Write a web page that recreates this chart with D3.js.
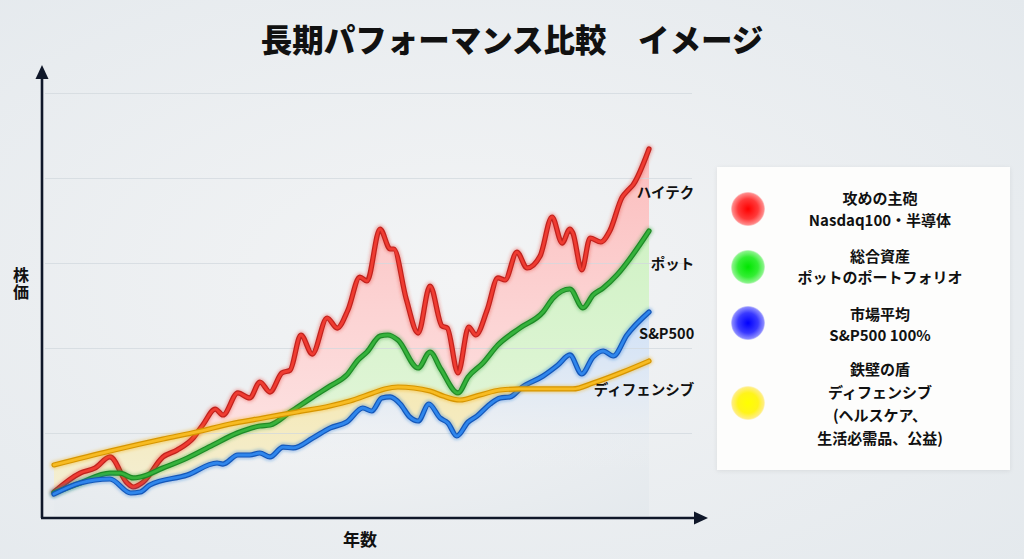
<!DOCTYPE html>
<html><head><meta charset="utf-8">
<script src="https://cdn.jsdelivr.net/npm/d3@7"></script>
<style>
html,body{margin:0;padding:0;background:#eceff2;overflow:hidden;}
svg{display:block;font-family:"Noto Sans CJK JP","Noto Sans",sans-serif;}
</style></head><body>
<svg id="c" width="1024" height="559"></svg>
<script>
// ---- data (time index 0-100, value index where grid lines sit at 100..500) ----
const hitechT = [0,4.4,6.9,9.4,12.3,13.3,15.0,18.3,20.7,23.4,25.0,27.1,28.4,30.9,32.9,34.6,36.3,38.3,39.7,41.5,43.4,45.9,47.6,49.4,51.4,52.6,54.8,56.5,57.1,59.2,61.2,63.2,65.2,66.1,67.9,69.7,70.9,72.8,74.6,75.8,77.8,79.5,81.7,83.7,85.4,86.7,87.2,88.7,90.1,91.9,93.4,95.5,96.5,97.3,100];
const hitechV = [30.6,52.9,58.8,71.8,41.2,36.5,42.4,71.8,80,94.1,109.4,128.2,121.2,147.1,141.2,160,148.2,170.6,174.1,215.3,192.9,235.3,223.5,244.7,283.5,278.8,340,316.5,316.5,257.6,217.6,272.9,225.9,223.5,170.6,224.7,215.3,244.7,282.4,280,312.9,294.1,308.2,354.1,323.5,340,335.3,291.8,329.4,324.7,337.6,377.6,385.9,391.8,434.1];

const potT = [0,4.4,9.4,11.1,13.3,14.5,18.3,22.4,26.7,30.8,34.6,36.3,39.7,43.5,46.4,49.2,51.1,52.6,54.8,56.1,57.8,61.2,63.2,65.0,67.9,69.6,72.1,74.6,78.3,82.2,83.9,86.7,88.9,90.6,92.3,94.6,100];
const potV = [29.4,41.2,52.9,52.9,47.1,48.2,58.8,70.6,85.9,100,108.2,109.4,124.7,142.4,155.3,168.2,185.9,195.3,214.1,215.3,209.4,176.5,195.3,175.3,147.1,165.9,182.4,203.5,223.5,242.4,258.8,269.4,247.1,262.4,270.6,285.9,337.6];

const spT = [0,4.4,9.4,12.9,14.5,16.1,22.4,27.4,28.4,30.9,32.9,34.6,36.3,38.5,40.2,43.5,46.4,49.2,51.9,53.4,55.1,56.5,58.2,59.8,61.2,63.0,64.9,66.2,67.7,69.6,71.1,73.3,75.0,76.6,78.7,82.2,84.7,86.7,88.7,90.6,92.3,94.0,96.3,100];
const spV = [28.2,41.2,45.9,29.4,30.6,38.8,50.6,64.7,63.5,74.1,74.1,76.5,71.8,83.5,82.4,94.1,105.9,112.9,129.4,125.9,141.2,142.4,134.1,118.8,114.1,134.1,117.6,111.8,96.5,112.9,120,134.1,141.2,142.4,154.1,167.1,180,191.8,169.4,189.4,196.5,190.6,215.3,242.4];

const defT = [0,9.4,18.3,24.0,29.6,35.1,40.8,46.4,49.7,53.6,55.6,57.8,63.2,65.4,68.2,71.6,75.0,78.3,87.2,90.6,95.6,100];
const defV = [62.4,78.8,92.9,101.2,110.6,117.6,124.7,131.8,137.6,147.1,151.8,154.1,149.4,143.5,138.8,144.7,150.6,151.8,151.8,158.8,171.8,184.7];

const gridTicks = [100,200,300,400,500];
const lineLabels = ["ハイテク","ポット","S&P500","ディフェンシブ"];
const lineLabelValues = [383,299,216,151];
const legendLines = [
  ["攻めの主砲","Nasdaq100・半導体"],
  ["総合資産","ポットのポートフォリオ"],
  ["市場平均","S&P500 100%"],
  ["鉄壁の盾","ディフェンシブ","(ヘルスケア、","生活必需品、公益)"]
];
const titleText = "長期パフォーマンス比較　イメージ";
const yLabel = "株価";
const xLabel = "年数";

// ---- setup ----
const svg = d3.select("#c");
const x = d3.scaleLinear().domain([0,100]).range([54,649]);
const y = d3.scaleLinear().domain([0,500]).range([518,93]);

const defs = svg.append("defs");
const bg = defs.append("radialGradient").attr("id","bg").attr("cx","45%").attr("cy","50%").attr("r","75%");
bg.append("stop").attr("offset","0").attr("stop-color","#f3f4f5");
bg.append("stop").attr("offset","1").attr("stop-color","#e4e9ed");
svg.append("rect").attr("width",1024).attr("height",559).attr("fill","url(#bg)");

function grad(id, stops, y1, y2){
  const g = defs.append("linearGradient").attr("id",id).attr("gradientUnits","userSpaceOnUse")
    .attr("x1",0).attr("x2",0).attr("y1",y1).attr("y2",y2);
  stops.forEach(s=>g.append("stop").attr("offset",s[0]).attr("stop-color",s[1]).attr("stop-opacity",s[2]===undefined?1:s[2]));
}
grad("gRed",[[0,"#fbbcbc"],[0.5,"#fcd3d3"],[1,"#fde6e6"]],140,480);
grad("gGreen",[[0,"#d0f2c5"],[1,"#e6f6dd"]],230,480);
grad("gYel",[[0,"#f6e7ad"],[1,"#f3efd6"]],360,500);
grad("gBlue",[[0,"#cfe1f7"],[0.5,"#e2eaf4"],[1,"#eef0f2",0]],310,470);

const soft = defs.append("filter").attr("id","soft").attr("x","-10%").attr("y","-10%").attr("width","120%").attr("height","120%");
soft.append("feGaussianBlur").attr("stdDeviation",1.6);

const shadow = defs.append("filter").attr("id","shadow").attr("x","-5%").attr("y","-5%").attr("width","110%").attr("height","110%");
shadow.append("feDropShadow").attr("dx",0).attr("dy",1).attr("stdDeviation",2).attr("flood-color","#000").attr("flood-opacity",0.08);

function legendGrad(id, c0, c1, c2){
  const g = defs.append("radialGradient").attr("id",id);
  g.append("stop").attr("offset","0").attr("stop-color",c0);
  g.append("stop").attr("offset","0.6").attr("stop-color",c1);
  g.append("stop").attr("offset","0.92").attr("stop-color",c2).attr("stop-opacity",0.9);
  g.append("stop").attr("offset","1").attr("stop-color",c2).attr("stop-opacity",0.3);
}
legendGrad("lRed","#ff0000","#ff3a3a","#ff7a7a");
legendGrad("lGreen","#00e600","#33ee33","#7af27a");
legendGrad("lBlue","#0000ff","#3a3aff","#7a7aff");
legendGrad("lYel","#ffff00","#fff41a","#ffec70");

const series = [
  {t:hitechT, v:hitechV, fill:"url(#gRed)", dark:"#c0221d", main:"#ef3b31", glow:"#e53935"},
  {t:potT, v:potV, fill:"url(#gGreen)", dark:"#1d8a26", main:"#36b23c", glow:"#2e9e35"},
  {t:defT, v:defV, fill:"url(#gYel)", dark:"#d69500", main:"#f7bb22", glow:"#f0a800"},
  {t:spT, v:spV, fill:"url(#gBlue)", dark:"#1457b8", main:"#2f86ec", glow:"#1e6fd6"}
];
series.forEach(s=>{ s.pts = s.t.map((t,i)=>[t,s.v[i]]); });

const area = d3.area().x(d=>x(d[0])).y0(y(0)-2).y1(d=>y(d[1])).curve(d3.curveMonotoneX);
const line = d3.line().x(d=>x(d[0])).y(d=>y(d[1])).curve(d3.curveMonotoneX);

// areas (red, green, yellow opaque layers; blue fades out)
series.forEach((s,i)=>{
  if(i===3){
    // mask layers under blue: paint background-coloured area first, then blue gradient
    svg.append("path").attr("d",area(s.pts)).attr("fill","url(#bg)");
  }
  svg.append("path").attr("d",area(s.pts)).attr("fill",s.fill);
});

// grid lines
const gridAxis = d3.axisLeft(y).tickValues(gridTicks).tickSize(-(692-45)).tickFormat("");
const gg = svg.append("g").attr("transform","translate(45,0)").call(gridAxis);
gg.select(".domain").remove();
gg.selectAll("line").attr("stroke","#d2d8de").attr("stroke-opacity",0.75).attr("stroke-width",1);

// lines (draw order: red, green, blue, yellow)
[series[0],series[1],series[3],series[2]].forEach(s=>{
  const d = line(s.pts);
  svg.append("path").attr("d",d).attr("fill","none").attr("stroke",s.glow).attr("stroke-opacity",0.35)
    .attr("stroke-width",8).attr("filter","url(#soft)").attr("stroke-linejoin","round").attr("stroke-linecap","round");
  svg.append("path").attr("d",d).attr("fill","none").attr("stroke",s.dark)
    .attr("stroke-width",5.2).attr("stroke-linejoin","round").attr("stroke-linecap","round");
  svg.append("path").attr("d",d).attr("fill","none").attr("stroke",s.main)
    .attr("stroke-width",2.8).attr("stroke-linejoin","round").attr("stroke-linecap","round");
});

// axes
const axisColor = "#0f1729";
svg.append("line").attr("x1",42).attr("x2",42).attr("y1",518).attr("y2",76).attr("stroke",axisColor).attr("stroke-width",2.6);
svg.append("line").attr("x1",41).attr("x2",697).attr("y1",518).attr("y2",518).attr("stroke",axisColor).attr("stroke-width",2.6);
svg.append("path").attr("d","M42,65 L35.5,79 L48.5,79 Z").attr("fill",axisColor);
svg.append("path").attr("d","M708,518 L694,511.5 L694,524.5 Z").attr("fill",axisColor);

// axis labels
svg.append("text").attr("x",21).attr("y",284).attr("font-size",16).attr("font-weight",700).attr("fill","#111")
  .attr("text-anchor","middle").style("writing-mode","vertical-rl").style("letter-spacing","1px").text(yLabel);
svg.append("text").attr("x",360).attr("y",546).attr("font-size",17).attr("font-weight",700).attr("fill","#111").attr("text-anchor","middle").text(xLabel);

// line labels
lineLabels.forEach((lab,i)=>{
  svg.append("text").attr("x",x(107.6)).attr("y",y(lineLabelValues[i])).attr("dy","0.35em")
    .attr("text-anchor","end").attr("font-size",14.5).attr("font-weight",700).attr("fill","#111").text(lab);
});

// title
svg.append("text").attr("x",512).attr("y",41).attr("dy","0.36em").attr("text-anchor","middle")
  .attr("font-size",31.5).attr("font-weight",900).attr("fill","#111").text(titleText);

// legend
svg.append("rect").attr("x",717).attr("y",167).attr("width",293).attr("height",303).attr("fill","#fdfdfc").attr("filter","url(#shadow)");
const legFills = ["url(#lRed)","url(#lGreen)","url(#lBlue)","url(#lYel)"];
const legCy = [209,267,323,403];
const legTextY = [[199,221],[257,278],[315,336],[370,393,416,439]];
legendLines.forEach((lines,i)=>{
  svg.append("circle").attr("cx",748).attr("cy",legCy[i]).attr("r",17).attr("fill",legFills[i]);
  lines.forEach((t,j)=>{
    svg.append("text").attr("x",880).attr("y",legTextY[i][j]).attr("dy","0.35em").attr("text-anchor","middle")
      .attr("font-size",15).attr("font-weight",700).attr("fill","#111").text(t);
  });
});
</script>
</body></html>
